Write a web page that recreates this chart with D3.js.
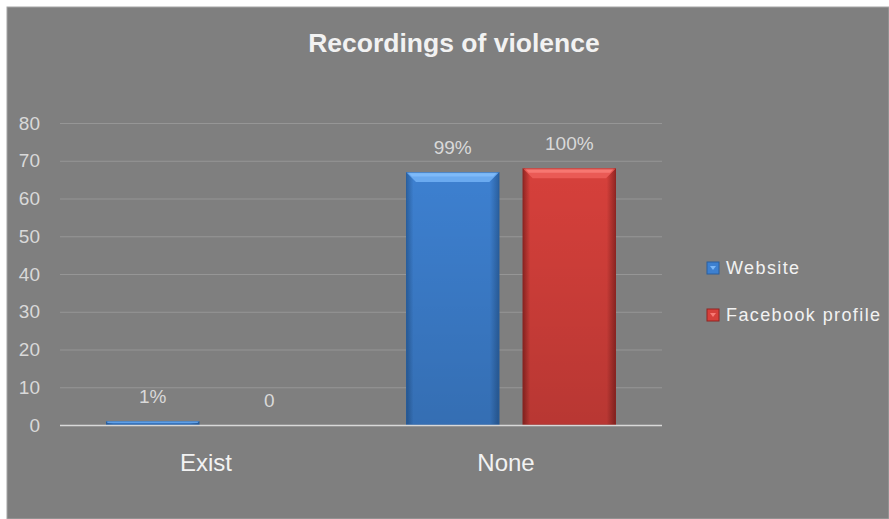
<!DOCTYPE html>
<html>
<head>
<meta charset="utf-8">
<script src="https://cdn.jsdelivr.net/npm/d3@7"></script>
<style>
  html, body { margin: 0; padding: 0; background: #ffffff; }
  svg { display: block; font-family: "Liberation Sans", Arial, sans-serif; }
</style>
</head>
<body>
<div id="chart-container"></div>
<script>
// Chart data
let categories = ["Exist", "None"];
let seriesNames = ["Website", "Facebook profile"];
let websiteValues = [1, 67];
let facebookValues = [0, 68];
let websiteLabels = ["1%", "99%"];
let facebookLabels = ["0", "100%"];
let yTicks = [0, 10, 20, 30, 40, 50, 60, 70, 80];

let width = 889;
let height = 519;

let svg = d3.select("#chart-container").append("svg")
  .attr("width", width)
  .attr("height", height);

// gradients for the bevelled bars
let defs = svg.append("defs");
let palette = {
  "Website": { dark: "#2a5f9e", mid: "#3d80d0", light: "#6aaaf0", top: "#8cc4ff" },
  "Facebook profile": { dark: "#8f2522", mid: "#d6403b", light: "#ea5a55", top: "#ff8a84" }
};
seriesNames.forEach(function(s, i) {
  let c = palette[s];
  let g = defs.append("linearGradient")
    .attr("id", "body" + i)
    .attr("x1", "0").attr("x2", "1").attr("y1", "0").attr("y2", "0");
  g.append("stop").attr("offset", "0").attr("stop-color", c.dark);
  g.append("stop").attr("offset", "0.08").attr("stop-color", c.mid);
  g.append("stop").attr("offset", "0.9").attr("stop-color", c.mid);
  g.append("stop").attr("offset", "1").attr("stop-color", c.dark);
  let v = defs.append("linearGradient")
    .attr("id", "shade" + i)
    .attr("x1", "0").attr("x2", "0").attr("y1", "0").attr("y2", "1");
  v.append("stop").attr("offset", "0").attr("stop-color", "#000").attr("stop-opacity", 0);
  v.append("stop").attr("offset", "1").attr("stop-color", "#000").attr("stop-opacity", 0.14);
});

// background panel
svg.append("rect")
  .attr("x", 0).attr("y", 0)
  .attr("width", width).attr("height", height)
  .attr("fill", "#ffffff");
svg.append("rect")
  .attr("x", 7).attr("y", 7)
  .attr("width", width - 7).attr("height", height - 7)
  .attr("fill", "#7f7f7f")
  .attr("stroke", "#a6a6a6")
  .attr("stroke-width", 1);

// title
svg.append("text")
  .attr("x", 454)
  .attr("y", 52)
  .attr("text-anchor", "middle")
  .attr("fill", "#f2f2f2")
  .style("font-size", "26.5px")
  .style("font-weight", "bold")
  .text("Recordings  of violence");

// scales
let x0 = d3.scaleBand()
  .domain(categories)
  .range([60, 660])
  .padding(0);

let x1 = d3.scaleBand()
  .domain(seriesNames)
  .range([46, 256])
  .paddingInner(0.2);

let y = d3.scaleLinear()
  .domain([0, 80])
  .range([425, 123]);

// gridlines
svg.append("g")
  .selectAll("line")
  .data(yTicks.filter(function(d) { return d > 0; }))
  .enter().append("line")
  .attr("x1", 60).attr("x2", 662)
  .attr("y1", function(d) { return y(d) + 0.5; })
  .attr("y2", function(d) { return y(d) + 0.5; })
  .attr("stroke", "#969696")
  .attr("stroke-width", 1);

// y axis labels
let yAxis = d3.axisLeft(y).tickValues(yTicks).tickSize(0).tickPadding(0);
let yAxisG = svg.append("g")
  .attr("transform", "translate(40,0)")
  .call(yAxis);
yAxisG.select(".domain").remove();
yAxisG.selectAll("text")
  .attr("fill", "#d9d9d9")
  .style("font-size", "19px")
  .style("font-family", "\"Liberation Sans\", Arial, sans-serif");

// bars
let rows = categories.map(function(c, i) {
  return [
    { cat: c, series: seriesNames[0], idx: 0, value: websiteValues[i], label: websiteLabels[i] },
    { cat: c, series: seriesNames[1], idx: 1, value: facebookValues[i], label: facebookLabels[i] }
  ];
});

let groups = svg.append("g")
  .selectAll("g")
  .data(rows)
  .enter().append("g")
  .attr("transform", function(d) { return "translate(" + x0(d[0].cat) + ",0)"; });

let bars = groups.selectAll(".bar")
  .data(function(d) { return d; })
  .enter().append("g")
  .attr("class", "bar");

bars.filter(function(d) { return d.value > 0; })
  .each(function(d) {
    let g = d3.select(this);
    let bx = x1(d.series);
    let bw = x1.bandwidth();
    let top = y(d.value);
    let bh = y(0) - top;
    let c = palette[d.series];
    g.append("rect")
      .attr("x", bx).attr("y", top)
      .attr("width", bw).attr("height", bh)
      .attr("fill", "url(#body" + d.idx + ")");
    g.append("rect")
      .attr("x", bx).attr("y", top)
      .attr("width", bw).attr("height", bh)
      .attr("fill", "url(#shade" + d.idx + ")");
    // top bevel
    let bev = Math.min(10, bh / 2);
    g.append("path")
      .attr("d", "M" + bx + "," + top +
        "L" + (bx + bw) + "," + top +
        "L" + (bx + bw - bev) + "," + (top + bev) +
        "L" + (bx + bev) + "," + (top + bev) + "Z")
      .attr("fill", c.light);
    g.append("path")
      .attr("d", "M" + (bx + 2) + "," + top +
        "L" + (bx + bw - 2) + "," + top +
        "L" + (bx + bw - bev * 0.6) + "," + (top + bev * 0.45) +
        "L" + (bx + bev * 0.6) + "," + (top + bev * 0.45) + "Z")
      .attr("fill", c.top)
      .attr("opacity", 0.6);
    g.append("rect")
      .attr("x", bx + 0.5).attr("y", top + 0.5)
      .attr("width", bw - 1).attr("height", bh - 1)
      .attr("fill", "none")
      .attr("stroke", c.dark)
      .attr("stroke-opacity", 0.6);
  });

// value labels
bars.append("text")
  .attr("x", function(d) { return x1(d.series) + x1.bandwidth() / 2; })
  .attr("y", function(d) { return y(d.value) - 18; })
  .attr("text-anchor", "middle")
  .attr("fill", "#d9d9d9")
  .style("font-size", "19px")
  .text(function(d) { return d.label; });

// category axis
svg.append("line")
  .attr("x1", 60).attr("x2", 662)
  .attr("y1", y(0) + 0.5).attr("y2", y(0) + 0.5)
  .attr("stroke", "#d9d9d9")
  .attr("stroke-width", 1.5);

let xAxis = d3.axisBottom(x0).tickSize(0).tickPadding(0);
let xAxisG = svg.append("g")
  .attr("transform", "translate(-4," + (y(0) + 46) + ")")
  .call(xAxis);
xAxisG.select(".domain").remove();
xAxisG.selectAll("text")
  .attr("fill", "#f2f2f2")
  .attr("dy", 0)
  .style("font-size", "24px")
  .style("font-family", "\"Liberation Sans\", Arial, sans-serif");

// legend
let legend = svg.selectAll(".legend")
  .data(seriesNames)
  .enter().append("g")
  .attr("class", "legend")
  .attr("transform", function(_, i) {
    return "translate(707," + (262 + i * 47) + ")";
  });

legend.append("rect")
  .attr("width", 12)
  .attr("height", 12)
  .style("fill", function(d) { return palette[d].mid; })
  .attr("stroke", function(d) { return palette[d].dark; });

legend.append("path")
  .attr("d", "M3,4L9,4L6,8Z")
  .attr("fill", function(d) { return palette[d].top; })
  .attr("opacity", 0.8);

legend.append("text")
  .attr("x", 19)
  .attr("y", 6)
  .attr("dy", ".35em")
  .attr("fill", "#f2f2f2")
  .style("font-size", "18px")
  .style("letter-spacing", "1.4px")
  .text(function(d) { return d; });
</script>
</body>
</html>
